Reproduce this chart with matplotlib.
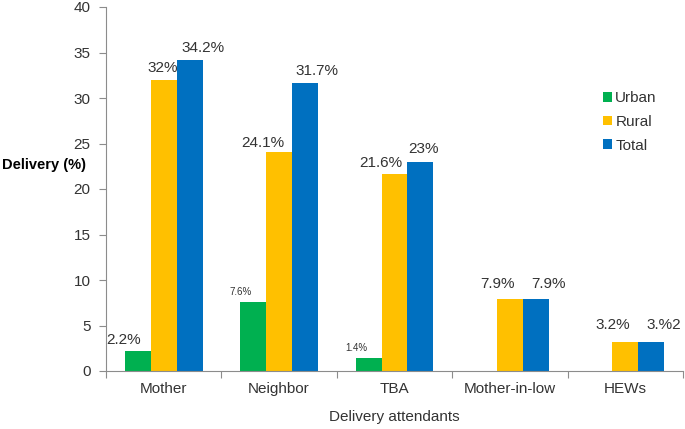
import matplotlib
matplotlib.use("Agg")
import matplotlib.pyplot as plt
import numpy as np

categories = ["Mother", "Neighbor", "TBA", "Mother-in-low", "HEWs"]
urban = [2.2, 7.6, 1.4, 0, 0]
rural = [32, 24.1, 21.6, 7.9, 3.2]
total = [34.2, 31.7, 23, 7.9, 3.2]
urban_labels = ["2.2%", "7.6%", "1.4%", None, None]
rural_labels = ["32%", "24.1%", "21.6%", "7.9%", "3.2%"]
total_labels = ["34.2%", "31.7%", "23%", "7.9%", "3.%2"]
yticks = [0, 5, 10, 15, 20, 25, 30, 35, 40]

# label placement (pixel offsets from bar top-centre), styling
urban_off = [(-14, 4), (-13, 5), (-12, 5), None, None]
urban_size = [11, 7, 7, None, None]
rural_off = [(-1, 5), (-16, 2), (-14, 4), (-12, 8), (-13, 10)]
total_off = [(13, 5), (12, 5), (3, 6), (13, 8), (13, 10)]

GREEN, YELLOW, BLUE = "#00B050", "#FFC000", "#0070C0"
TXT = "#333333"
SP = "#8c8c8c"

fig = plt.figure(figsize=(6.85, 4.29), dpi=100)
ax = fig.add_axes([106/685, 1 - 371/429, 577/685, 364/429])

x = np.arange(len(categories))
w = 0.225
b1 = ax.bar(x - w, urban, w, color=GREEN, label="Urban")
b2 = ax.bar(x, rural, w, color=YELLOW, label="Rural")
b3 = ax.bar(x + w, total, w, color=BLUE, label="Total")

def lab(bars, labels, offs, sizes=None):
    for i, (b, t, o) in enumerate(zip(bars, labels, offs)):
        if t is None:
            continue
        fs = sizes[i] if sizes else 11
        ax.annotate(t, (b.get_x() + b.get_width() / 2, b.get_height()),
                    xytext=o, textcoords="offset pixels", ha="center", va="bottom",
                    fontsize=fs, color=TXT, family="Liberation Sans")

lab(b1, urban_labels, urban_off, urban_size)
lab(b2, rural_labels, rural_off)
lab(b3, total_labels, total_off)

ax.set_xlim(-0.5, len(categories) - 0.5)
ax.set_ylim(0, 40)
ax.set_yticks(yticks)
ax.set_yticklabels([str(v) for v in yticks], fontsize=11, color=TXT, family="Liberation Sans")
ax.set_xticks(np.arange(len(categories) + 1) - 0.5)
ax.set_xticklabels([])
ax.set_xticks(x, minor=True)
ax.set_xticklabels(categories, minor=True, fontsize=11, color=TXT,
                   family=["Liberation Sans Narrow", "Liberation Sans"])
ax.tick_params(axis="x", which="minor", length=0, pad=8)
ax.tick_params(axis="x", which="major", length=5, color=SP, direction="out")
ax.tick_params(axis="y", length=5, color=SP, direction="out", pad=6)

for s in ["top", "right"]:
    ax.spines[s].set_visible(False)
for s in ["left", "bottom"]:
    ax.spines[s].set_color(SP)

ax.set_xlabel("Delivery attendants", fontsize=11, color=TXT, labelpad=10,
              family=["Liberation Sans Narrow", "Liberation Sans"])
fig.text(2/685, 1 - 165/429, "Delivery (%)", fontsize=10.5, fontweight="bold",
         color="black", va="center", ha="left", family="Liberation Sans")

leg = ax.legend(loc="upper left", bbox_to_anchor=((597 - 106)/577, (371 - 85)/364),
                frameon=False, handlelength=0.6, handleheight=0.6,
                handletextpad=0.2, labelspacing=0.64, borderaxespad=0,
                prop={"family": "Liberation Sans", "size": 11})
for t in leg.get_texts():
    t.set_color(TXT)

fig.savefig("out.png", dpi=100)
